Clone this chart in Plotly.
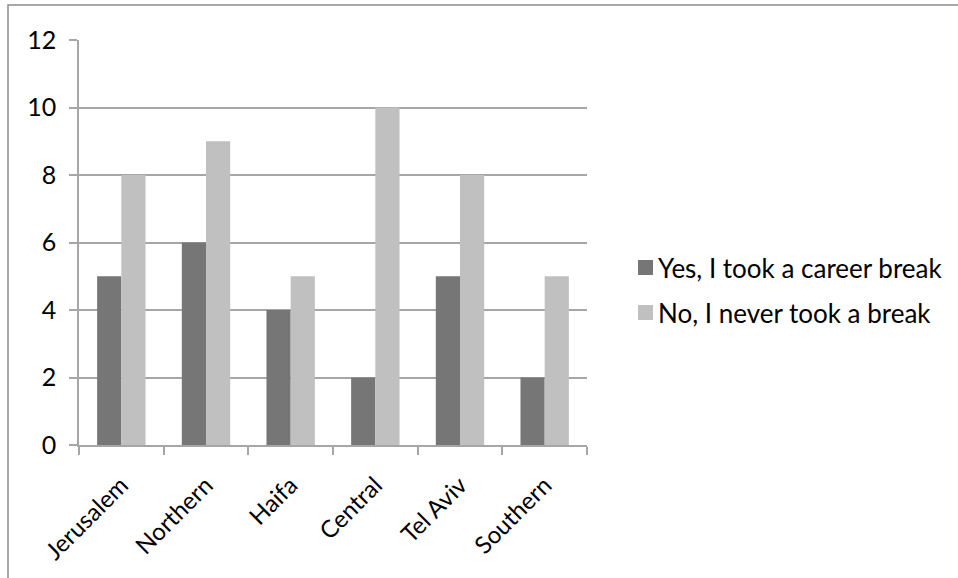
import plotly.graph_objects as go

# Districts and survey counts
districts = ["Jerusalem", "Northern", "Haifa", "Central", "Tel Aviv", "Southern"]
took_break = [5, 6, 4, 2, 5, 2]
never_break = [8, 9, 5, 10, 8, 5]
series_names = ["Yes, I took a career break", "No, I never took a break"]
series_colors = ["#767676", "#C0C0C0"]
y_ticks = [0, 2, 4, 6, 8, 10, 12]

FONT = "Lato"
GRID = "#A6A6A6"

fig = go.Figure()
for name, vals, col in zip(series_names, [took_break, never_break], series_colors):
    fig.add_trace(go.Bar(x=districts, y=vals, name=name,
                         marker=dict(color=col, line=dict(width=0)),
                         showlegend=False))

# Plot-area geometry in pixels
L, R, T, B = 79, 587, 40, 445
W, H = 958, 578
pw, ph = R - L, B - T


def px_x(x):
    return (x - L) / pw


def px_y(y):
    return (B - y) / ph


fig.update_layout(
    width=W, height=H,
    margin=dict(l=L, r=W - R, t=T, b=H - B),
    paper_bgcolor="white", plot_bgcolor="white",
    barmode="group", bargap=1.5 / 3.5, bargroupgap=0,
    font=dict(family=FONT, size=25, color="#000000"),
    showlegend=False,
    xaxis=dict(showline=True, linecolor=GRID, linewidth=1.5,
               ticks="outside", tickson="boundaries", ticklen=8,
               tickcolor=GRID, tickwidth=1.5, tickangle=-45,
               showgrid=False, ticklabelstandoff=15, automargin=False,
               tickfont=dict(family=FONT, size=24, color="#000000")),
    yaxis=dict(range=[0, 12], tickvals=y_ticks, showline=True,
               linecolor=GRID, linewidth=1.5, ticks="outside", ticklen=8,
               tickcolor=GRID, tickwidth=1.5, showgrid=True,
               gridcolor=GRID, gridwidth=1.5, zeroline=False,
               ticklabelstandoff=8, automargin=False,
               tickfont=dict(family=FONT, size=25, color="#000000")),
)

# Legend: colour keys and labels beside the plot
for i, (name, col) in enumerate(zip(series_names, series_colors)):
    top = 260 + 45 * i
    fig.add_shape(type="rect", xref="paper", yref="paper",
                  x0=px_x(638), x1=px_x(653), y0=px_y(top + 15), y1=px_y(top),
                  line=dict(width=0), fillcolor=col)
    fig.add_annotation(xref="paper", yref="paper", x=px_x(656), y=px_y(top + 8),
                       xanchor="left", yanchor="middle", text=name,
                       showarrow=False, font=dict(family=FONT, size=26, color="#000000"))

# Outer chart frame
fig.add_shape(type="rect", xref="paper", yref="paper",
              x0=px_x(8), x1=px_x(W + 20), y0=px_y(H + 20), y1=px_y(5),
              line=dict(color="#8C8C8C", width=1.5), layer="below")

fig.write_html("out.html")
